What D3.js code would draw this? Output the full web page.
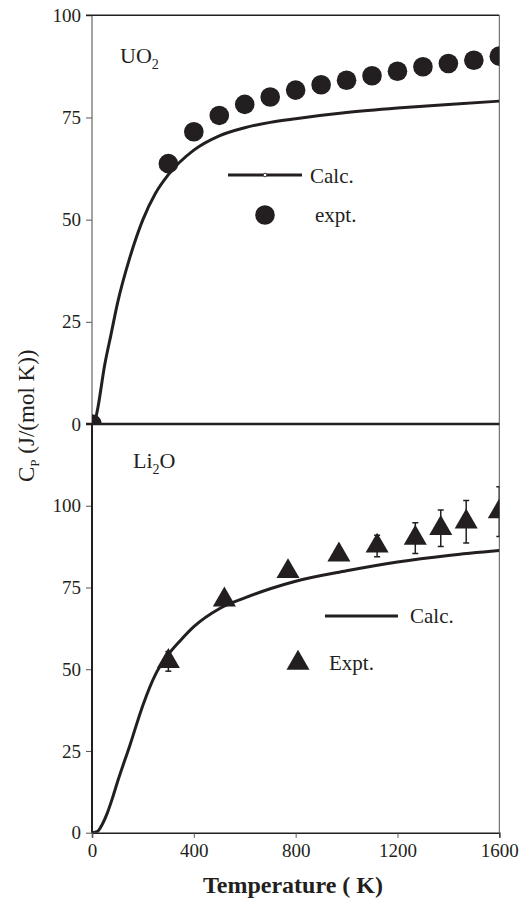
<!DOCTYPE html>
<html>
<head>
<meta charset="utf-8">
<script src="https://cdn.jsdelivr.net/npm/d3@7"></script>
<style>
  body { margin: 0; background: #fff; }
  svg text { font-family: "Liberation Serif", "Times New Roman", serif; fill: #231f20; }
</style>
</head>
<body>
<div id="chart"></div>
<script>
// temperature grid (K)
var uo2CalcT   = [0, 8, 20, 50, 75, 100, 150, 200, 250, 300, 400, 500, 600, 700, 800, 1000, 1200, 1400, 1600];
var uo2CalcCp  = [0, 0, 3, 14.5, 22, 29.5, 41, 50, 56.5, 61, 67, 70.5, 72.5, 73.8, 74.7, 76.2, 77.3, 78.2, 79];
var uo2ExptT   = [0, 300, 400, 500, 600, 700, 800, 900, 1000, 1100, 1200, 1300, 1400, 1500, 1600];
var uo2ExptCp  = [0, 63.7, 71.5, 75.5, 78.2, 80, 81.7, 83, 84.1, 85.2, 86.3, 87.4, 88.2, 89, 90];

var li2oCalcT  = [0, 20, 40, 60, 80, 100, 150, 200, 250, 300, 350, 400, 500, 600, 700, 800, 1000, 1200, 1400, 1600];
var li2oCalcCp = [0, 0.3, 2.5, 6, 10.5, 15.5, 27, 39, 48.5, 54.5, 59, 63, 68.5, 71.8, 74.6, 76.9, 80.1, 82.8, 84.8, 86.3];
var li2oExptT  = [300, 520, 770, 970, 1120, 1270, 1370, 1470, 1600];
var li2oExptCp = [52.4, 71.2, 79.9, 85, 87.7, 90.1, 93.1, 95.1, 98.2];
var li2oExptErr = [3, 1.5, 1.5, 1.5, 3.3, 4.7, 5.6, 6.5, 7.6];

var xTicks = [0, 400, 800, 1200, 1600];
var yTicks = [0, 25, 50, 75, 100];

var ink = "#231f20";
var serif = "Liberation Serif";
var width = 520, height = 903;
var left = 92, right = 499.3;

var svg = d3.select("#chart").append("svg")
    .attr("width", width).attr("height", height);

var x = d3.scaleLinear().domain([0, 1600]).range([left, right]);
var yTop = d3.scaleLinear().domain([0, 100]).range([424, 15.3]);
var yBot = d3.scaleLinear().domain([0, 125]).range([832.7, 424]);

function zip(a, b) { return a.map(function(v, i) { return [v, b[i]]; }); }

function addClip(id, y) {
  svg.append("clipPath").attr("id", id).append("rect")
    .attr("x", left).attr("y", y.range()[1])
    .attr("width", right - left).attr("height", y.range()[0] - y.range()[1]);
}
addClip("clipTop", yTop);
addClip("clipBot", yBot);

function yAxis(y, ticks, strokeW, color) {
  var g = svg.append("g").attr("transform", "translate(" + left + ",0)")
    .call(d3.axisLeft(y).tickValues(ticks).tickSize(6).tickPadding(5).tickFormat(d3.format("d")))
    .attr("font-family", serif).attr("font-size", 19);
  g.select(".domain").remove();
  g.selectAll(".tick line").attr("stroke", "#555").attr("stroke-width", 1);
  g.selectAll(".tick text").attr("fill", "#333");
  svg.append("line").attr("x1", left).attr("x2", left)
    .attr("y1", y.range()[0]).attr("y2", y.range()[1])
    .attr("stroke", color).attr("stroke-width", strokeW);
}

// ---- top panel (UO2) ----
yAxis(yTop, yTicks, 1.2, "#666");
svg.append("line").attr("x1", left - 6).attr("x2", right).attr("y1", 15.3).attr("y2", 15.3)
  .attr("stroke", ink).attr("stroke-width", 1.6);
svg.append("line").attr("x1", right).attr("x2", right).attr("y1", 15.3).attr("y2", 832.7)
  .attr("stroke", "#555").attr("stroke-width", 1);

var topLine = d3.line().x(function(d) { return x(d[0]); }).y(function(d) { return yTop(d[1]); })
  .curve(d3.curveMonotoneX);
var gTop = svg.append("g").attr("clip-path", "url(#clipTop)");
gTop.append("path").datum(zip(uo2CalcT, uo2CalcCp))
  .attr("d", topLine).attr("fill", "none").attr("stroke", ink).attr("stroke-width", 3);
gTop.selectAll("circle").data(zip(uo2ExptT, uo2ExptCp)).enter().append("circle")
  .attr("cx", function(d) { return x(d[0]); })
  .attr("cy", function(d) { return yTop(d[1]); })
  .attr("r", 9.8).attr("fill", ink);

var uo2 = svg.append("text").attr("x", 120).attr("y", 63).attr("font-size", 22);
uo2.append("tspan").text("UO");
uo2.append("tspan").attr("dy", 6).attr("font-size", 14).text("2");

// legend top
svg.append("line").attr("x1", 228).attr("x2", 302).attr("y1", 175).attr("y2", 175)
  .attr("stroke", ink).attr("stroke-width", 3);
svg.append("circle").attr("cx", 265).attr("cy", 175).attr("r", 1.8)
  .attr("fill", "#fff").attr("stroke", ink).attr("stroke-width", 0.8);
svg.append("text").attr("x", 310).attr("y", 183).attr("font-size", 21).text("Calc.");
svg.append("circle").attr("cx", 265).attr("cy", 215).attr("r", 9.8).attr("fill", ink);
svg.append("text").attr("x", 315).attr("y", 222).attr("font-size", 21).text("expt.");

// ---- bottom panel (Li2O) ----
yAxis(yBot, yTicks, 2, ink);

var gx = svg.append("g").attr("transform", "translate(0," + 832.7 + ")")
  .call(d3.axisBottom(x).tickValues(xTicks).tickSize(5).tickPadding(6).tickFormat(d3.format("d")))
  .attr("font-family", serif).attr("font-size", 19);
gx.select(".domain").attr("stroke", ink).attr("stroke-width", 1.5);
gx.selectAll(".tick line").attr("stroke", "#555");
gx.selectAll(".tick text").attr("fill", "#333");

var botLine = d3.line().x(function(d) { return x(d[0]); }).y(function(d) { return yBot(d[1]); })
  .curve(d3.curveMonotoneX);
var gBot = svg.append("g").attr("clip-path", "url(#clipBot)");
gBot.append("path").datum(zip(li2oCalcT, li2oCalcCp))
  .attr("d", botLine).attr("fill", "none").attr("stroke", ink).attr("stroke-width", 3);

var tri = d3.symbol().type(d3.symbolTriangle).size(230);
var pts = li2oExptT.map(function(t, i) { return { t: t, cp: li2oExptCp[i], e: li2oExptErr[i] }; });
var eb = gBot.selectAll("g.eb").data(pts).enter().append("g").attr("class", "eb")
  .attr("stroke", ink).attr("stroke-width", 1.5);
eb.append("line")
  .attr("x1", function(d) { return x(d.t); }).attr("x2", function(d) { return x(d.t); })
  .attr("y1", function(d) { return yBot(d.cp - d.e); }).attr("y2", function(d) { return yBot(d.cp + d.e); });
eb.append("line")
  .attr("x1", function(d) { return x(d.t) - 3; }).attr("x2", function(d) { return x(d.t) + 3; })
  .attr("y1", function(d) { return yBot(d.cp + d.e); }).attr("y2", function(d) { return yBot(d.cp + d.e); });
eb.append("line")
  .attr("x1", function(d) { return x(d.t) - 3; }).attr("x2", function(d) { return x(d.t) + 3; })
  .attr("y1", function(d) { return yBot(d.cp - d.e); }).attr("y2", function(d) { return yBot(d.cp - d.e); });
gBot.selectAll("path.tri").data(pts).enter().append("path").attr("class", "tri")
  .attr("d", tri)
  .attr("transform", function(d) { return "translate(" + x(d.t) + "," + yBot(d.cp) + ")"; })
  .attr("fill", ink);

// zero line between the panels
svg.append("line").attr("x1", left - 6).attr("x2", right).attr("y1", 424).attr("y2", 424)
  .attr("stroke", ink).attr("stroke-width", 2.4);

var li = svg.append("text").attr("x", 133).attr("y", 468).attr("font-size", 22);
li.append("tspan").text("Li");
li.append("tspan").attr("dy", 6).attr("font-size", 14).text("2");
li.append("tspan").attr("dy", -6).text("O");

// legend bottom
svg.append("line").attr("x1", 325).attr("x2", 398).attr("y1", 616).attr("y2", 616)
  .attr("stroke", ink).attr("stroke-width", 3);
svg.append("text").attr("x", 410).attr("y", 623).attr("font-size", 21).text("Calc.");
svg.append("path").attr("d", tri).attr("transform", "translate(298,663)").attr("fill", ink);
svg.append("text").attr("x", 329).attr("y", 670).attr("font-size", 21).text("Expt.");

// axis titles
svg.append("text").attr("x", 293).attr("y", 893).attr("text-anchor", "middle")
  .attr("font-size", 24).attr("font-weight", "bold").text("Temperature ( K)");

var yt = svg.append("text").attr("transform", "translate(34,482) rotate(-90)")
  .attr("font-size", 23);
yt.append("tspan").text("C");
yt.append("tspan").attr("dy", 5).attr("font-size", 13).text("P");
yt.append("tspan").attr("dy", -5).text(" (J/(mol K))");
</script>
</body>
</html>
